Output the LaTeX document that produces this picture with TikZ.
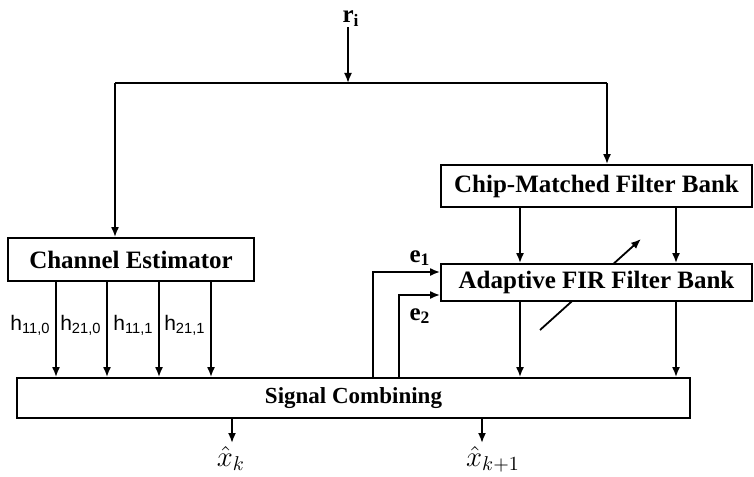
\documentclass[tikz,border=0pt]{standalone}
\usepackage{fontspec}
\setmainfont{Liberation Serif}
\setsansfont{Liberation Sans}
\usetikzlibrary{arrows.meta}
\tikzstyle{block} = [rectangle, draw=black, line width=0.9pt, fill=white, inner sep=0pt, text centered, font=\fontsize{12.5}{14}\selectfont\bfseries]
\tikzstyle{arrow} = [line width=0.9pt,->,>={Latex[length=5pt,width=4pt]}]
\tikzstyle{wire} = [line width=0.9pt]
\tikzstyle{taplabel} = [inner sep=0pt, font=\fontsize{10.5}{12}\selectfont\sffamily]
\tikzstyle{errlabel} = [inner sep=0pt, font=\fontsize{12.5}{14}\selectfont\bfseries]
\tikzstyle{outlabel} = [anchor=north, inner sep=0pt, font=\fontsize{14}{16}\selectfont]

\begin{document}
\begin{tikzpicture}[x=0.5pt,y=-0.5pt]
\useasboundingbox (0,0) rectangle (754,476);

\node (chest) [block, minimum width=123pt, minimum height=21.5pt] at (131,259.5) {Channel Estimator};
\node (cmfb) [block, minimum width=155.5pt, minimum height=21pt] at (596.5,186) {Chip-Matched Filter Bank};

% adjustment arrow, runs behind the FIR bank
\coordinate (adjlow) at (540,330);
\coordinate (adjhigh) at (641,239);
\draw [arrow] (adjlow) -- (adjhigh);
\node (afir) [block, minimum width=155.5pt, minimum height=18.5pt] at (596.5,282.5) {Adaptive FIR Filter Bank};
\node (comb) [block, minimum width=336.5pt, minimum height=20pt, font=\fontsize{11.5}{13}\selectfont\bfseries] at (353.5,398) {Signal Combining};

% received signal
\node (ri) [errlabel, anchor=base] at (351,23) {r\textsubscript{i}};
\coordinate (split) at (348,83);
\coordinate (jl) at (115,83);
\coordinate (jr) at (607,83);
\draw [arrow] (ri.south -| split) -- (split);
\draw [wire] (jl) -- (jr);
\draw [arrow] (jl) -- (jl |- chest.north);
\draw [arrow] (jr) -- (jr |- cmfb.north);

% channel estimates
\foreach \x/\idx in {56/{11,0},107/{21,0},159/{11,1},211/{21,1}}{
  \draw [arrow] (chest.south -| \x,0) -- (comb.north -| \x,0);
  \node (tap\x) [taplabel, anchor=base east] at (\x-5,330) {h\textsubscript{\idx}};
}

% filter bank paths
\foreach \x in {520,676}{
  \draw [arrow] (cmfb.south -| \x,0) -- (afir.north -| \x,0);
  \draw [arrow] (afir.south -| \x,0) -- (comb.north -| \x,0);
}

% error feedback
\draw [arrow] (comb.north -| 373,0) |- (afir.west |- 0,272);
\draw [arrow] (comb.north -| 399,0) |- (afir.west |- 0,295);
\node (e1) [errlabel] at (420,258) {e\textsubscript{1}};
\node (e2) [errlabel] at (420,316) {e\textsubscript{2}};

% outputs
\coordinate (outk) at (232,443);
\coordinate (outkk) at (482,443);
\draw [arrow] (comb.south -| outk) -- (outk);
\draw [arrow] (comb.south -| outkk) -- (outkk);
\node (xk) [outlabel] at (231,446) {$\hat{x}_k$};
\node (xkk) [outlabel] at (493,446) {$\hat{x}_{k+1}$};

\end{tikzpicture}
\end{document}
